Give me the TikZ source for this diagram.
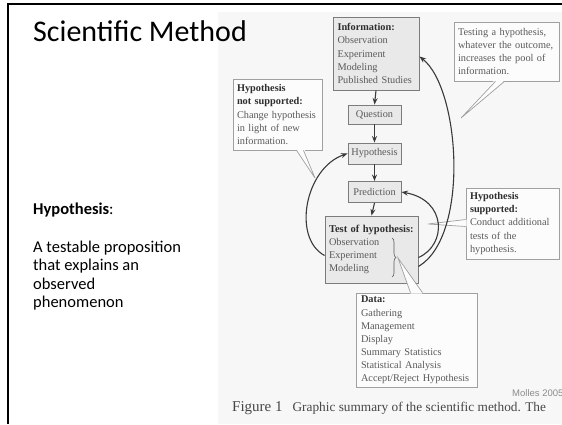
\documentclass[tikz,border=0pt]{standalone}
\usepackage{fontspec}
\setmainfont{Liberation Serif}
\newfontfamily\calib{Carlito}
\newfontfamily\mollesfont{Liberation Sans}
\usetikzlibrary{arrows.meta,decorations.pathreplacing,calc}
\definecolor{figbg}{HTML}{F7F7F7}
\definecolor{boxfill}{HTML}{E9E9E9}
\definecolor{boxline}{HTML}{7C7C7C}
\definecolor{callfill}{HTML}{FCFCFC}
\definecolor{callline}{HTML}{A0A0A0}
\definecolor{figtext}{HTML}{5A5A5A}
\definecolor{figdark}{HTML}{2E2E2E}
\definecolor{arrcol}{HTML}{3A3A3A}
\definecolor{captext}{HTML}{464646}
\newcommand{\figfont}{\fontsize{10.3}{13.1}\selectfont}
\newcommand{\hdr}[1]{{\bfseries\color{figdark}#1}}
\begin{document}
\begin{tikzpicture}[x=1pt,y=-1pt,
  mainbox/.style={draw=boxline, fill=boxfill, line width=0.9pt, inner sep=0pt, align=left, font=\figfont, text=figtext},
  callout/.style={draw=callline, fill=callfill, line width=0.7pt, inner sep=0pt, align=left, font=\figfont, text=figtext},
  arr/.style={draw=arrcol, line width=1.1pt, -{Stealth[length=6.5pt,width=5pt]}},
  slidetext/.style={anchor=base west, inner sep=0pt, font=\calib\fontsize{16.5}{18.5}\selectfont}]
\clip (0,0) rectangle (562,424);
\fill[white] (0,0) rectangle (562,424);
\fill[figbg] (218,12) rectangle (562,424);
\draw[line width=2pt] (8,424) -- (8,4) -- (562,4);

% slide text
\node[anchor=base west, inner sep=0pt, font=\calib\fontsize{30}{32}\selectfont] (title) at (33,41) {Scientific Method};
\node[slidetext] (hdef) at (33,214) {\textbf{Hypothesis}:};
\node[slidetext] (def1) at (33,252) {A testable proposition};
\node[slidetext] (def2) at (33,270.5) {that explains an};
\node[slidetext] (def3) at (33,289) {observed};
\node[slidetext] (def4) at (33,307.5) {phenomenon};

% main boxes
\node[mainbox, minimum width=86, minimum height=73, text width=77] (info) at (376,53.5)
  {\hdr{Information:}\\Observation\\Experiment\\Modeling\\Published Studies};
\node[mainbox, minimum width=53, minimum height=19, align=center] (question) at (374.5,114.5) {Question};
\node[mainbox, minimum width=53, minimum height=21, align=center] (hyp) at (374.5,153.5) {Hypothesis};
\node[mainbox, minimum width=53, minimum height=21, align=center] (pred) at (374.5,192) {Prediction};
\node[mainbox, minimum width=93, minimum height=67, text width=85] (test) at (371.5,249.5)
  {\mbox{\hdr{\fontsize{10.5}{13}\selectfont Test of hypothesis:}}\\Observation\\Experiment\\Modeling};
\draw[decorate, decoration={brace, amplitude=4pt}, figtext, line width=0.6pt] (392,238) -- (392,277);
\coordinate (bracetip) at (398,258);

% callouts
\node[callout, minimum width=105, minimum height=59, text width=97] (testing) at (506.5,51.5)
  {Testing a hypothesis,\\whatever the outcome,\\increases the pool of\\information.};
\coordinate (testtip) at (461,118);
\fill[callfill] ([xshift=-12pt,yshift=1pt]testing.south) -- (testtip) -- ([xshift=-2pt,yshift=1pt]testing.south) -- cycle;
\draw[callline, line width=0.7pt] ([xshift=-11pt]testing.south) -- (testtip) -- ([xshift=-2pt]testing.south);

\node[callout, minimum width=89, minimum height=71, text width=81] (notsup) at (277.5,114.5)
  {\hdr{Hypothesis}\\\hdr{not supported:}\\Change hypothesis\\in light of new\\information.};
\coordinate (notsuptip) at (315,178);
\fill[callfill] ([xshift=19pt,yshift=1pt]notsup.south) -- (notsuptip) -- ([xshift=27pt,yshift=1pt]notsup.south) -- cycle;
\draw[callline, line width=0.7pt] ([xshift=19pt]notsup.south) -- (notsuptip) -- ([xshift=26pt]notsup.south);

\node[callout, minimum width=93, minimum height=71, text width=85] (sup) at (512.5,223.5)
  {\hdr{Hypothesis}\\\hdr{supported:}\\Conduct additional\\tests of the\\hypothesis.};
\coordinate (suptip) at (428,224);
\fill[callfill] ([xshift=1pt,yshift=4pt]sup.west) -- (suptip) -- ([xshift=1pt,yshift=-3pt]sup.west) -- cycle;
\draw[callline, line width=0.7pt] ([yshift=4pt]sup.west) -- (suptip) -- ([yshift=-3pt]sup.west);

\node[callout, minimum width=121, minimum height=94, text width=111] (data) at (416.5,340)
  {\hdr{Data:}\\Gathering\\Management\\Display\\Summary Statistics\\Statistical Analysis\\Accept/Reject Hypothesis};
\fill[callfill] ([xshift=-6pt,yshift=-1pt]data.north) -- (bracetip) -- ([xshift=6pt,yshift=-1pt]data.north) -- cycle;
\draw[callline, line width=0.7pt] ([xshift=-6pt]data.north) -- (bracetip) -- ([xshift=6pt]data.north);

% arrows
\draw[arr] (info.south) -- (question.north);
\draw[arr] (question.south) -- (hyp.north);
\draw[arr] (hyp.south) -- (pred.north);
\draw[arr] (pred.south) -- (test.north);
\draw[arr] ([yshift=-6pt]test.west) .. controls (292,238) and (305,168) .. (hyp.west);
\draw[arr] ([yshift=-8pt]test.east) .. controls (447,245) and (447,200) .. (pred.east);
\draw[arr] ([yshift=-17pt]test.east) .. controls (470,236) and (460,88) .. ([yshift=-3pt]info.east);

% caption
\node[anchor=base west, inner sep=0pt, font=\mollesfont\fontsize{9.5}{11}\selectfont, text=black!45] (molles) at (512,396) {Molles 2005};
\node[anchor=base west, inner sep=0pt, text=captext] (caption) at (232,411)
  {{\fontsize{15}{16}\selectfont Figure 1}\hspace{10pt}{\fontsize{13.3}{15}\selectfont Graphic summary of the scientific method. The}};
\end{tikzpicture}
\end{document}
